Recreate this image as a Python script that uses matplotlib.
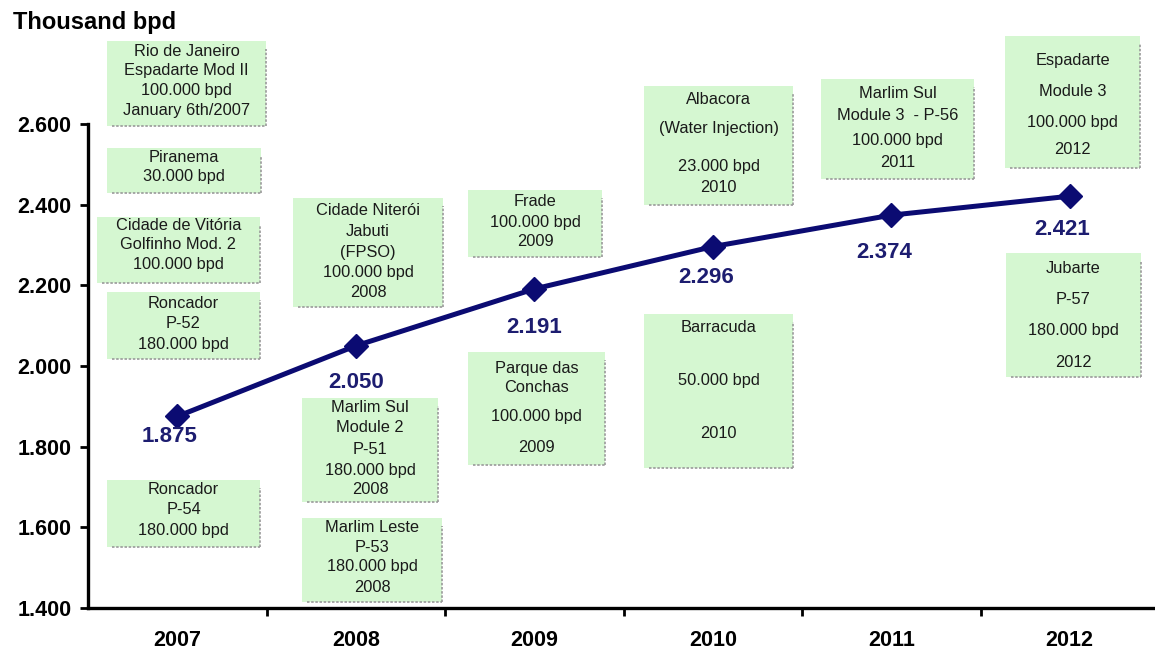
import matplotlib
matplotlib.use("Agg")
import matplotlib.pyplot as plt
from matplotlib.patches import Rectangle
from matplotlib.lines import Line2D

plt.rcParams['font.family'] = ['Liberation Sans', 'DejaVu Sans']

# ---- data -------------------------------------------------------------
years = ['2007', '2008', '2009', '2010', '2011', '2012']
production = [1875, 2050, 2191, 2296, 2374, 2421]   # thousand bpd
y_ticks = [1400, 1600, 1800, 2000, 2200, 2400, 2600]
unit_label = 'Thousand bpd'

projects = [
    ['Rio de Janeiro', 'Espadarte Mod II', '100.000 bpd', 'January 6th/2007'],
    ['Piranema', '30.000 bpd'],
    ['Cidade de Vitória', 'Golfinho Mod. 2', '100.000 bpd'],
    ['Roncador', 'P-52', '180.000 bpd'],
    ['Roncador', 'P-54', '180.000 bpd'],
    ['Cidade Niterói', 'Jabuti', '(FPSO)', '100.000 bpd', '2008'],
    ['Marlim Sul', 'Module 2', 'P-51', '180.000 bpd', '2008'],
    ['Marlim Leste', 'P-53', '180.000 bpd', '2008'],
    ['Frade', '100.000 bpd', '2009'],
    ['Parque das', 'Conchas', '100.000 bpd', '2009'],
    ['Albacora', '(Water Injection)', '23.000 bpd', '2010'],
    ['Barracuda', '50.000 bpd', '2010'],
    ['Marlim Sul', 'Module 3  - P-56', '100.000 bpd', '2011'],
    ['Espadarte', 'Module 3', '100.000 bpd', '2012'],
    ['Jubarte', 'P-57', '180.000 bpd', '2012'],
]

# ---- layout (pixels from the top-left corner of the figure) -----------
W, H = 1155, 654
box_rects = [
    (107, 41, 266, 126), (107, 148, 261, 193), (97, 217, 260, 283),
    (107, 292, 260, 359), (107, 480, 260, 547), (293, 198, 443, 307),
    (302, 398, 438, 502), (302, 518, 442, 602), (468, 190, 602, 257),
    (468, 352, 605, 465), (644, 86, 793, 205), (644, 314, 793, 468),
    (821, 79, 974, 179), (1005, 36, 1140, 168), (1006, 253, 1141, 377),
]
box_line_y = [
    [51, 71, 91, 111], [157, 177], [225, 244, 264], [303, 323, 344],
    [490, 510, 531], [210, 231, 252, 272, 292], [407, 428, 449, 470, 490],
    [527, 547, 567, 587], [201, 222, 242], [368, 388, 417, 447],
    [100, 128, 166, 188], [328, 381, 434], [94, 116, 140, 162],
    [61, 92, 122, 150], [268, 299, 331, 362],
]
label_offsets = [(-8, -20), (0, -37), (0, -39), (-7, -31), (-7, -37), (-8, -33)]

navy = '#0b0b72'
label_navy = '#1d1d70'
box_fill = '#d5f7d1'
shadow = '#9a9a9a'

fig = plt.figure(figsize=(W / 100, H / 100), dpi=100)
fig.patch.set_facecolor('white')

ax_left, ax_bottom, ax_top = 88, 608, 124
step = 178.5
ax = fig.add_axes([ax_left / W, (H - ax_bottom) / H,
                   6 * step / W, (ax_bottom - ax_top) / H])
ax.set_facecolor('none')
x = list(range(len(years)))

# project boxes drawn behind the line
for lines, (x0, y0, x1, y1), ly in zip(projects, box_rects, box_line_y):
    fx0, fx1 = x0 / W, x1 / W
    fy0, fy1 = 1 - y1 / H, 1 - y0 / H
    fig.add_artist(Rectangle((fx0, fy0), fx1 - fx0, fy1 - fy0,
                             transform=fig.transFigure, facecolor=box_fill,
                             edgecolor='none', zorder=0))
    fig.add_artist(Line2D([fx1, fx1], [fy0, fy1 - 0.012], transform=fig.transFigure,
                          color=shadow, lw=1.2, ls=(0, (1.5, 1)), zorder=0.5))
    fig.add_artist(Line2D([fx0 + 0.004, fx1], [fy0, fy0], transform=fig.transFigure,
                          color=shadow, lw=1.2, ls=(0, (1.5, 1)), zorder=0.5))
    for t, yy in zip(lines, ly):
        fig.text((fx0 + fx1) / 2, 1 - yy / H, t, ha='center', va='center',
                 fontsize=11.8, color='#1a1a1a', zorder=1)

ax.set_zorder(2)
ax.plot(x, production, color=navy, lw=3.6, marker='D', markersize=12,
        markerfacecolor=navy, markeredgecolor=navy, zorder=3)

for xi, v, (dx, dy) in zip(x, production, label_offsets):
    ax.annotate(f"{v / 1000:.3f}", (xi, v), xytext=(dx * 0.72, dy * 0.72),
                textcoords='offset points', ha='center', va='center',
                fontsize=16, fontweight='bold', color=label_navy)

ax.set_ylim(y_ticks[0], y_ticks[-1])
ax.set_xlim(-0.5, len(years) - 0.5)
ax.set_yticks(y_ticks)
ax.set_yticklabels([f"{v / 1000:.3f}" for v in y_ticks],
                   fontsize=15.5, fontweight='bold')
ax.set_xticks([i + 0.5 for i in range(len(years))])
ax.set_xticklabels([])
ax.set_xticks(x, minor=True)
ax.set_xticklabels(years, minor=True, fontsize=15.5, fontweight='bold')
ax.tick_params(axis='x', which='minor', length=0, pad=16)
ax.tick_params(axis='x', which='major', length=6, width=2, direction='out')
ax.tick_params(axis='y', length=6, width=2, direction='out', pad=6)

for side in ('top', 'right'):
    ax.spines[side].set_visible(False)
for side in ('left', 'bottom'):
    ax.spines[side].set_linewidth(2.4)
    ax.spines[side].set_color('black')

fig.text(13 / W, 1 - 22 / H, unit_label, ha='left', va='center',
         fontsize=17, fontweight='bold', color='black')

fig.savefig('out.png', dpi=100)
